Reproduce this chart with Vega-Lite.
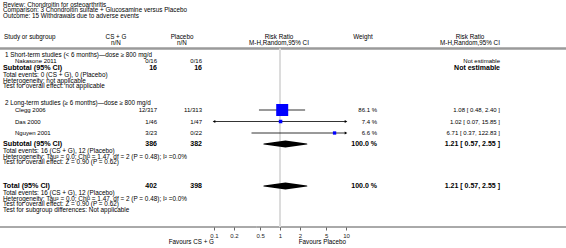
{
  "$schema": "https://vega.github.io/schema/vega-lite/v6.json",
  "width": 566,
  "height": 227,
  "autosize": {"type": "none"},
  "padding": {"left": 0, "top": 0, "right": 0, "bottom": 21},
  "background": "white",
  "config": {
    "view": {"stroke": null},
    "text": {"font": "Liberation Sans", "fontSize": 6.3, "baseline": "middle", "color": "#000"}
  },
  "datasets": {
    "texts": [
      {"col": "title", "line": 0.9, "text": "Review:  Chondroitin for osteoarthritis"},
      {"col": "title", "line": 2.0, "text": "Comparison:  3 Chondroitin sulfate + Glucosamine versus Placebo"},
      {"col": "title", "line": 3.1, "text": "Outcome:  15 Withdrawals due to adverse events"},
      {"col": "h_study", "line": 7.4, "text": "Study or subgroup"},
      {"col": "h_e", "line": 7.4, "text": "CS + G"},
      {"col": "h_e", "line": 8.5, "text": "n/N"},
      {"col": "h_c", "line": 7.4, "text": "Placebo"},
      {"col": "h_c", "line": 8.5, "text": "n/N"},
      {"col": "h_plot", "line": 7.4, "text": "Risk Ratio"},
      {"col": "h_plot", "line": 8.5, "text": "M-H,Random,95% CI"},
      {"col": "h_w", "line": 7.4, "text": "Weight"},
      {"col": "h_est", "line": 7.4, "text": "Risk Ratio"},
      {"col": "h_est", "line": 8.5, "text": "M-H,Random,95% CI"},
      {"col": "grp", "line": 11.0, "text": "1 Short-term studies (< 6 months)—dose ≥ 800 mg/d"},
      {"col": "grp", "line": 20.6, "text": "2 Long-term studies (≥ 6 months)—dose ≥ 800 mg/d"},
      {"col": "foot", "line": 15.0, "text": "Total events: 0 (CS + G), 0 (Placebo)"},
      {"col": "foot", "line": 16.1, "text": "Heterogeneity: not applicable"},
      {"col": "foot", "line": 17.2, "text": "Test for overall effect: not applicable"},
      {"col": "foot", "line": 30.2, "text": "Total events: 16 (CS + G), 12 (Placebo)"},
      {"col": "foot", "line": 31.3, "text": "Heterogeneity: Tau² = 0.0; Chi² = 1.47, df = 2 (P = 0.48); I² =0.0%"},
      {"col": "foot", "line": 32.4, "text": "Test for overall effect: Z = 0.90 (P = 0.62)"},
      {"col": "foot", "line": 38.6, "text": "Total events: 16 (CS + G), 12 (Placebo)"},
      {"col": "foot", "line": 39.7, "text": "Heterogeneity: Tau² = 0.0; Chi² = 1.47, df = 2 (P = 0.48); I² =0.0%"},
      {"col": "foot", "line": 40.8, "text": "Test for overall effect: Z = 0.90 (P = 0.62)"},
      {"col": "foot", "line": 41.9, "text": "Test for subgroup differences: Not applicable"},
      {"col": "fav_left", "line": 48.4, "text": "Favours CS + G"},
      {"col": "fav_right", "line": 48.4, "text": "Favours Placebo"}
    ],
    "studies": [
      {"study": "Nakasone 2011", "line": 12.1, "events_e": "0/16", "events_c": "0/16", "weight_label": "", "estimate": "Not estimable"},
      {"study": "Clegg 2006", "line": 22.0, "events_e": "12/317", "events_c": "11/313", "weight": 86.1, "weight_label": "86.1 %", "rr": 1.08, "lo": 0.48, "hi": 2.40, "estimate": "1.08 [ 0.48, 2.40 ]"},
      {"study": "Das 2000", "line": 24.3, "events_e": "1/46", "events_c": "1/47", "weight": 7.4, "weight_label": "7.4 %", "rr": 1.02, "lo": 0.07, "hi": 15.85, "estimate": "1.02 [ 0.07, 15.85 ]"},
      {"study": "Nguyen 2001", "line": 26.6, "events_e": "3/23", "events_c": "0/22", "weight": 6.6, "weight_label": "6.6 %", "rr": 6.71, "lo": 0.37, "hi": 122.83, "estimate": "6.71 [ 0.37, 122.83 ]"}
    ],
    "pooled": [
      {"label": "Subtotal (95% CI)", "line": 13.6, "total_e": "16", "total_c": "16", "weight_label": "", "estimate": "Not estimable"},
      {"label": "Subtotal (95% CI)", "line": 28.8, "total_e": "386", "total_c": "382", "weight_label": "100.0 %", "rr": 1.21, "lo": 0.57, "hi": 2.55, "estimate": "1.21 [ 0.57, 2.55 ]"},
      {"label": "Total (95% CI)", "line": 37.2, "total_e": "402", "total_c": "398", "weight_label": "100.0 %", "rr": 1.21, "lo": 0.57, "hi": 2.55, "estimate": "1.21 [ 0.57, 2.55 ]"}
    ],
    "hlines": [
      {"kind": "header", "line": 9.7},
      {"kind": "axis", "line": 45.4}
    ],
    "nullline": [
      {"rr": 1, "from": 9.7, "to": 45.4}
    ]
  },
  "encoding": {
    "y": {"field": "line", "type": "quantitative", "scale": {"domain": [0, 45.4], "range": [0, 227], "nice": false, "zero": false}, "axis": null}
  },
  "layer": [
    {
      "data": {"name": "hlines"},
      "transform": [{"filter": "datum.kind == 'header'"}],
      "mark": {"type": "rule", "stroke": "#9a9a9a", "strokeWidth": 2.5},
      "encoding": {"x": {"value": 0}, "x2": {"value": 566}}
    },
    {
      "data": {"name": "hlines"},
      "transform": [{"filter": "datum.kind == 'axis'"}],
      "mark": {"type": "rule", "stroke": "#555555", "strokeWidth": 1},
      "encoding": {"x": {"value": 0}, "x2": {"value": 566}}
    },
    {
      "data": {"name": "nullline"},
      "mark": {"type": "rule", "stroke": "#dcdcdc", "strokeWidth": 2},
      "encoding": {
        "x": {"field": "rr", "type": "quantitative", "scale": {"type": "log", "domain": [0.1, 10], "range": [214, 346], "clamp": true, "nice": false},
              "axis": {"values": [0.1, 0.2, 0.5, 1, 2, 5, 10], "format": "~g", "domain": false, "grid": false, "tickSize": 3, "tickColor": "#666666", "labelFontSize": 6, "labelFont": "Liberation Sans", "labelColor": "#222222", "labelPadding": 2, "labelFlush": false, "labelOverlap": false, "title": null}},
        "y": {"field": "from", "type": "quantitative"},
        "y2": {"field": "to"}
      }
    },
    {
      "data": {"name": "studies"},
      "transform": [{"filter": "isValid(datum.rr)"}],
      "mark": {"type": "rule", "stroke": "#000000", "strokeWidth": 0.8},
      "encoding": {
        "x": {"field": "lo", "type": "quantitative", "scale": {"type": "log", "domain": [0.1, 10], "range": [214, 346], "clamp": true, "nice": false},
              "axis": {"values": [0.1, 0.2, 0.5, 1, 2, 5, 10], "format": "~g", "domain": false, "grid": false, "tickSize": 3, "tickColor": "#666666", "labelFontSize": 6, "labelFont": "Liberation Sans", "labelColor": "#222222", "labelPadding": 2, "labelFlush": false, "labelOverlap": false, "title": null}},
        "x2": {"field": "hi"}
      }
    },
    {
      "data": {"name": "studies"},
      "transform": [{"filter": "isValid(datum.lo) && datum.lo < 0.1"}],
      "mark": {"type": "point", "shape": "triangle-left", "filled": true, "color": "#000000", "size": 9, "opacity": 1},
      "encoding": {"x": {"field": "lo", "type": "quantitative"}}
    },
    {
      "data": {"name": "studies"},
      "transform": [{"filter": "isValid(datum.hi) && datum.hi > 10"}],
      "mark": {"type": "point", "shape": "triangle-right", "filled": true, "color": "#000000", "size": 9, "opacity": 1},
      "encoding": {"x": {"field": "hi", "type": "quantitative"}}
    },
    {
      "data": {"name": "studies"},
      "transform": [{"filter": "isValid(datum.rr)"}],
      "mark": {"type": "point", "shape": "square", "filled": true, "color": "#0000ff", "opacity": 1, "strokeWidth": 0},
      "encoding": {
        "x": {"field": "rr", "type": "quantitative"},
        "size": {"field": "weight", "type": "quantitative", "scale": {"domain": [0, 86.1], "range": [0, 144]}, "legend": null}
      }
    },
    {
      "data": {"name": "pooled"},
      "transform": [
        {"filter": "isValid(datum.rr)"},
        {"fold": ["lo", "rr", "hi"], "as": ["key", "value"]}
      ],
      "mark": {"type": "trail", "color": "#000000", "opacity": 1},
      "encoding": {
        "x": {"field": "value", "type": "quantitative"},
        "detail": {"field": "line", "type": "nominal"},
        "order": {"field": "value", "type": "quantitative"},
        "size": {"condition": {"test": "datum.key == 'rr'", "value": 7}, "value": 0}
      }
    },
    {
      "data": {"name": "texts"},
      "transform": [{"filter": "datum.col == 'title'"}],
      "mark": {"type": "text", "align": "left"},
      "encoding": {"x": {"value": 3}, "text": {"field": "text"}}
    },
    {
      "data": {"name": "texts"},
      "transform": [{"filter": "datum.col == 'h_study'"}],
      "mark": {"type": "text", "align": "left"},
      "encoding": {"x": {"value": 4}, "text": {"field": "text"}}
    },
    {
      "data": {"name": "texts"},
      "transform": [{"filter": "datum.col == 'h_e'"}],
      "mark": {"type": "text", "align": "center"},
      "encoding": {"x": {"value": 116}, "text": {"field": "text"}}
    },
    {
      "data": {"name": "texts"},
      "transform": [{"filter": "datum.col == 'h_c'"}],
      "mark": {"type": "text", "align": "center"},
      "encoding": {"x": {"value": 182}, "text": {"field": "text"}}
    },
    {
      "data": {"name": "texts"},
      "transform": [{"filter": "datum.col == 'h_plot'"}],
      "mark": {"type": "text", "align": "center"},
      "encoding": {"x": {"value": 279}, "text": {"field": "text"}}
    },
    {
      "data": {"name": "texts"},
      "transform": [{"filter": "datum.col == 'h_w'"}],
      "mark": {"type": "text", "align": "center"},
      "encoding": {"x": {"value": 363}, "text": {"field": "text"}}
    },
    {
      "data": {"name": "texts"},
      "transform": [{"filter": "datum.col == 'h_est'"}],
      "mark": {"type": "text", "align": "center"},
      "encoding": {"x": {"value": 470}, "text": {"field": "text"}}
    },
    {
      "data": {"name": "texts"},
      "transform": [{"filter": "datum.col == 'grp'"}],
      "mark": {"type": "text", "align": "left"},
      "encoding": {"x": {"value": 5}, "text": {"field": "text"}}
    },
    {
      "data": {"name": "texts"},
      "transform": [{"filter": "datum.col == 'foot'"}],
      "mark": {"type": "text", "align": "left", "fontSize": 6.4},
      "encoding": {"x": {"value": 3}, "text": {"field": "text"}}
    },
    {
      "data": {"name": "texts"},
      "transform": [{"filter": "datum.col == 'fav_left'"}],
      "mark": {"type": "text", "align": "right"},
      "encoding": {"x": {"datum": 0.1, "type": "quantitative"}, "text": {"field": "text"}}
    },
    {
      "data": {"name": "texts"},
      "transform": [{"filter": "datum.col == 'fav_right'"}],
      "mark": {"type": "text", "align": "right"},
      "encoding": {"x": {"datum": 10, "type": "quantitative"}, "text": {"field": "text"}}
    },
    {
      "data": {"name": "studies"},
      "mark": {"type": "text", "align": "left", "fontSize": 6},
      "encoding": {"x": {"value": 15}, "text": {"field": "study"}}
    },
    {
      "data": {"name": "studies"},
      "mark": {"type": "text", "align": "right", "fontSize": 6},
      "encoding": {"x": {"value": 157}, "text": {"field": "events_e"}}
    },
    {
      "data": {"name": "studies"},
      "mark": {"type": "text", "align": "right", "fontSize": 6},
      "encoding": {"x": {"value": 202}, "text": {"field": "events_c"}}
    },
    {
      "data": {"name": "studies"},
      "mark": {"type": "text", "align": "right", "fontSize": 6},
      "encoding": {"x": {"value": 377}, "text": {"field": "weight_label"}}
    },
    {
      "data": {"name": "studies"},
      "mark": {"type": "text", "align": "right", "fontSize": 6},
      "encoding": {"x": {"value": 500}, "text": {"field": "estimate"}}
    },
    {
      "data": {"name": "pooled"},
      "mark": {"type": "text", "align": "left", "fontSize": 7.2, "fontWeight": "bold"},
      "encoding": {"x": {"value": 3}, "text": {"field": "label"}}
    },
    {
      "data": {"name": "pooled"},
      "mark": {"type": "text", "align": "right", "fontSize": 7, "fontWeight": "bold"},
      "encoding": {"x": {"value": 157}, "text": {"field": "total_e"}}
    },
    {
      "data": {"name": "pooled"},
      "mark": {"type": "text", "align": "right", "fontSize": 7, "fontWeight": "bold"},
      "encoding": {"x": {"value": 202}, "text": {"field": "total_c"}}
    },
    {
      "data": {"name": "pooled"},
      "mark": {"type": "text", "align": "right", "fontSize": 7, "fontWeight": "bold"},
      "encoding": {"x": {"value": 377}, "text": {"field": "weight_label"}}
    },
    {
      "data": {"name": "pooled"},
      "mark": {"type": "text", "align": "right", "fontSize": 7, "fontWeight": "bold"},
      "encoding": {"x": {"value": 500}, "text": {"field": "estimate"}}
    }
  ]
}
